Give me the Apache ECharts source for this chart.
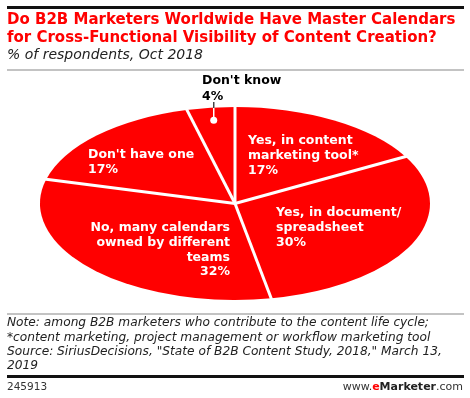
<!DOCTYPE html>
<html>
<head>
<meta charset="utf-8">
<script src="https://cdn.jsdelivr.net/npm/echarts@6/dist/echarts.min.js"></script>
<style>
  html, body { margin: 0; padding: 0; background: #fff; }
  #chart { width: 470px; height: 398px; }
</style>
</head>
<body>
<div id="chart"></div>
<script>
// slices, clockwise from 12 o'clock
const categories = [
  'Yes, in content\nmarketing tool*',
  'Yes, in document/\nspreadsheet',
  'No, many calendars\nowned by different\nteams',
  "Don't have one",
  "Don't know"
]
const values = [17, 30, 32, 17, 4]

const titleLines = [
  'Do B2B Marketers Worldwide Have Master Calendars',
  'for Cross-Functional Visibility of Content Creation?'
]
const subtitle = '% of respondents, Oct 2018'
const noteLines = [
  'Note: among B2B marketers who contribute to the content life cycle;',
  '*content marketing, project management or workflow marketing tool',
  'Source: SiriusDecisions, "State of B2B Content Study, 2018," March 13,',
  '2019'
]

const RED = '#ff0000'
const FONT = '"DejaVu Sans", Verdana, sans-serif'

// pie geometry (a circle squashed into an ellipse)
const cx = 235
const cy = 203.5
const rx = 195
const ry = 96.5

// where each label block sits [x, top, align]
const labelPos = [
  [248, 133.5, 'left'],
  [276, 205.5, 'left'],
  [230, 220.5, 'right'],
  [88, 147.5, 'left'],
  [202, 72.5, 'left']
]

const total = values.reduce((a, b) => a + b, 0)

function renderItem(params, api) {
  const i = params.dataIndex
  const before = values.slice(0, i).reduce((a, b) => a + b, 0)
  const start = -Math.PI / 2 + before / total * Math.PI * 2
  const end = start + api.value(0) / total * Math.PI * 2
  const pos = labelPos[i]
  const outside = i === values.length - 1

  const children = [{
    type: 'sector',
    x: cx,
    y: cy,
    scaleY: ry / rx,
    shape: { cx: 0, cy: 0, r0: 0, r: rx, startAngle: start, endAngle: end, clockwise: true },
    style: { fill: RED }
  }, {
    // white separator at the start edge of the slice
    type: 'line',
    z2: 5,
    shape: {
      x1: cx, y1: cy,
      x2: cx + Math.cos(start) * (rx + 2),
      y2: cy + Math.sin(start) * (ry + 2)
    },
    style: { stroke: '#fff', lineWidth: 3 }
  }, {
    type: 'text',
    z2: 10,
    style: {
      x: pos[0],
      y: pos[1],
      text: categories[i] + '\n' + api.value(0) + '%',
      fill: outside ? '#000' : '#fff',
      font: 'bold 12.5px ' + FONT,
      lineHeight: outside ? 16 : 14.7,
      align: pos[2],
      verticalAlign: 'top'
    }
  }]

  if (outside) {
    const mid = (start + end) / 2
    const dx = cx + Math.cos(mid) * rx * 0.87
    const dy = cy + Math.sin(mid) * ry * 0.87
    children.push({
      type: 'line',
      z2: 10,
      shape: { x1: dx, y1: dy, x2: dx, y2: 102 },
      style: { stroke: '#fff', lineWidth: 1.5 }
    }, {
      type: 'line',
      z2: 10,
      shape: { x1: dx, y1: 108, x2: dx, y2: 102 },
      style: { stroke: '#444', lineWidth: 1.5 }
    }, {
      type: 'circle',
      z2: 11,
      shape: { cx: dx, cy: dy, r: 3.5 },
      style: { fill: '#fff' }
    })
  }
  return { type: 'group', children: children }
}

const chart = echarts.init(document.getElementById('chart'), null, { renderer: 'canvas' })

chart.setOption({
  animation: false,
  backgroundColor: '#fff',
  graphic: [
    { type: 'rect', shape: { x: 7, y: 6, width: 457, height: 3 }, style: { fill: '#111' } },
    {
      type: 'text',
      style: {
        x: 7, y: 11,
        text: titleLines.join('\n'),
        font: 'bold 15px ' + FONT,
        lineHeight: 18,
        fill: RED
      }
    },
    {
      type: 'text',
      style: {
        x: 7, y: 48,
        text: subtitle,
        font: 'italic 14px ' + FONT,
        fill: '#222'
      }
    },
    { type: 'rect', shape: { x: 7, y: 69.5, width: 457, height: 1 }, style: { fill: '#888' } },
    { type: 'rect', shape: { x: 7, y: 313.5, width: 457, height: 1 }, style: { fill: '#888' } },
    {
      type: 'text',
      style: {
        x: 7, y: 316,
        text: noteLines.join('\n'),
        font: 'italic 12.2px ' + FONT,
        lineHeight: 14.3,
        fill: '#222'
      }
    },
    { type: 'rect', shape: { x: 7, y: 375, width: 457, height: 3 }, style: { fill: '#111' } },
    {
      type: 'text',
      style: {
        x: 7, y: 387,
        text: '245913',
        font: '10.5px ' + FONT,
        verticalAlign: 'middle',
        fill: '#333'
      }
    },
    {
      type: 'text',
      style: {
        x: 463, y: 387,
        align: 'right',
        verticalAlign: 'middle',
        text: '{a|www.}{e|e}{m|Marketer}{a|.com}',
        rich: {
          a: { font: '11px ' + FONT, fill: '#333' },
          e: { font: 'bold 11px ' + FONT, fill: RED },
          m: { font: 'bold 11px ' + FONT, fill: '#222' }
        }
      }
    }
  ],
  series: [{
    type: 'custom',
    coordinateSystem: 'none',
    renderItem: renderItem,
    data: values.map(v => [v])
  }]
})
</script>
</body>
</html>
